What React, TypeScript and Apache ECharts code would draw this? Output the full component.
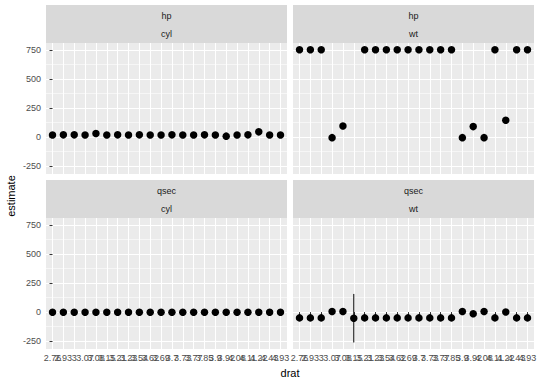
import React, { useEffect, useRef } from "react";
import * as echarts from "echarts";

const dratLabels = ["2.76","2.93","3","3.07","3.08","3.15","3.21","3.23","3.54","3.62","3.69","3.7","3.73","3.77","3.85","3.9","3.92","4.08","4.11","4.22","4.43","4.93"];

const hpCyl = [18,19,19,18,30,18,19,18,19,18,18,19,18,18,19,18,8,18,19,45,18,18];
const hpWt = [752,752,752,-5,95,null,752,752,752,752,752,752,752,752,752,-5,90,-5,752,145,752,752];
const qsecCyl = [-1,-1,-1,-1,-1,-1,-1,-1,-1,-1,-1,-1,-1,-1,-1,-1,-1,-1,-1,-1,-1,-1];
const qsecWt = [-50,-50,-50,5,5,-53,-50,-50,-50,-50,-50,-50,-50,-50,-50,5,-14,5,-50,0,-50,-50];

const errDrat = ["3.15"];
const errLow = [-262];
const errHigh = [156];

const yMajor = [-250, 0, 250, 500, 750];
const yMinor = [-125, 125, 375, 625];

const stripRows = [["hp", "cyl"], ["hp", "wt"], ["qsec", "cyl"], ["qsec", "wt"]];

const FONT = "Liberation Sans, Arial, Helvetica, sans-serif";

export default function App() {
  const ref = useRef<HTMLDivElement>(null);
  useEffect(() => {
    if (!ref.current) return;
    const chart = echarts.init(ref.current, null, { renderer: "svg" });
    const lefts = [46, 293];
    const tops = [43, 218];
    const W = 241;
    const H = 131;
    const grids: any[] = [];
    const xAxes: any[] = [];
    const yAxes: any[] = [];
    const series: any[] = [];
    const graphics: any[] = [];
    const idx = dratLabels.map((_, i) => i);
    const evenIdx = idx.filter((i) => i % 2 === 0);
    const oddIdx = idx.filter((i) => i % 2 === 1);
    const allData = [hpCyl, hpWt, qsecCyl, qsecWt];
    const labelStyle = {
      formatter: (v: number) => dratLabels[Math.round(v)] ?? "",
      fontSize: 9, color: "#4D4D4D", margin: 4, fontFamily: FONT, hideOverlap: false,
      showMinLabel: true, showMaxLabel: true,
    };
    const xIndexOf: number[] = [];
    for (let g = 0; g < 4; g++) {
      const row = Math.floor(g / 2);
      const col = g % 2;
      grids.push({
        left: lefts[col], top: tops[row], width: W, height: H,
        show: true, backgroundColor: "#EBEBEB", borderWidth: 0, containLabel: false,
      });
      const bottom = row === 1;
      const leftCol = col === 0;
      xIndexOf[g] = xAxes.length;
      xAxes.push({
        type: "value", gridIndex: g, min: -0.6, max: 21.6, position: "bottom",
        axisLine: { show: false },
        axisTick: { show: bottom, customValues: idx, length: 3, lineStyle: { color: "#333333", width: 1 } },
        axisLabel: { show: bottom, customValues: evenIdx, ...labelStyle },
        splitLine: { show: true, lineStyle: { color: "#FFFFFF", width: 1.1 } },
      });
      if (bottom) {
        xAxes.push({
          type: "value", gridIndex: g, min: -0.6, max: 21.6, position: "bottom", offset: 0,
          axisLine: { show: false },
          axisTick: { show: false, customValues: oddIdx },
          axisLabel: { show: true, customValues: oddIdx, ...labelStyle },
          splitLine: { show: false },
        });
      }
      yAxes.push({
        type: "value", gridIndex: g, min: -318, max: 810,
        axisLine: { show: false },
        axisTick: { show: leftCol, customValues: yMajor, length: 3, lineStyle: { color: "#333333", width: 1 } },
        axisLabel: {
          show: leftCol, customValues: yMajor, fontSize: 9, color: "#4D4D4D", margin: 5, fontFamily: FONT,
          showMinLabel: true, showMaxLabel: true,
        },
        splitLine: { show: true, lineStyle: { color: "#FFFFFF", width: 1.1 } },
      });
      yAxes.push({
        type: "value", gridIndex: g, min: -318, max: 810,
        axisLine: { show: false },
        axisTick: { show: false, customValues: yMinor },
        axisLabel: { show: false, customValues: yMinor },
        splitLine: { show: true, lineStyle: { color: "#FFFFFF", width: 0.55 } },
      });
      const arr = allData[g];
      series.push({
        type: "scatter", xAxisIndex: xIndexOf[g], yAxisIndex: g * 2, symbol: "circle", symbolSize: 7.5,
        itemStyle: { color: "#000000", opacity: 1 }, silent: true, z: 3,
        data: arr.map((v, i) => (v === null ? null : [i, v])).filter((d) => d !== null),
      });
      const sTop = tops[row] - 38;
      graphics.push({
        type: "rect", shape: { x: lefts[col], y: sTop, width: W, height: 38 },
        style: { fill: "#D9D9D9" }, silent: true,
      });
      graphics.push({
        type: "text", x: lefts[col] + W / 2, y: sTop + 10.5,
        style: { text: stripRows[g][0], fill: "#1A1A1A", font: `9px ${FONT}`, align: "center", verticalAlign: "middle" },
      });
      graphics.push({
        type: "text", x: lefts[col] + W / 2, y: sTop + 29,
        style: { text: stripRows[g][1], fill: "#1A1A1A", font: `9px ${FONT}`, align: "center", verticalAlign: "middle" },
      });
    }
    series.push({
      type: "custom", xAxisIndex: xIndexOf[3], yAxisIndex: 6, z: 2, silent: true,
      data: errDrat.map((d, i) => [dratLabels.indexOf(d), errLow[i], errHigh[i]]),
      renderItem: (params: any, api: any) => {
        const p1 = api.coord([api.value(0), api.value(1)]);
        const p2 = api.coord([api.value(0), api.value(2)]);
        return {
          type: "line",
          shape: { x1: p1[0], y1: p1[1], x2: p2[0], y2: p2[1] },
          style: { stroke: "#000000", lineWidth: 1 },
        };
      },
    });
    graphics.push({
      type: "text", x: 290, y: 373,
      style: { text: "drat", fill: "#000000", font: `11px ${FONT}`, align: "center", verticalAlign: "middle" },
    });
    graphics.push({
      type: "text", x: 11, y: 196, rotation: Math.PI / 2,
      style: { text: "estimate", fill: "#000000", font: `11px ${FONT}`, align: "center", verticalAlign: "middle" },
    });
    chart.setOption({
      animation: false,
      backgroundColor: "#FFFFFF",
      grid: grids,
      xAxis: xAxes,
      yAxis: yAxes,
      series,
      graphic: graphics,
    });
    return () => chart.dispose();
  }, []);
  return <div ref={ref} style={{ width: 540, height: 386, position: "fixed", left: 0, top: 0 }} />;
}
